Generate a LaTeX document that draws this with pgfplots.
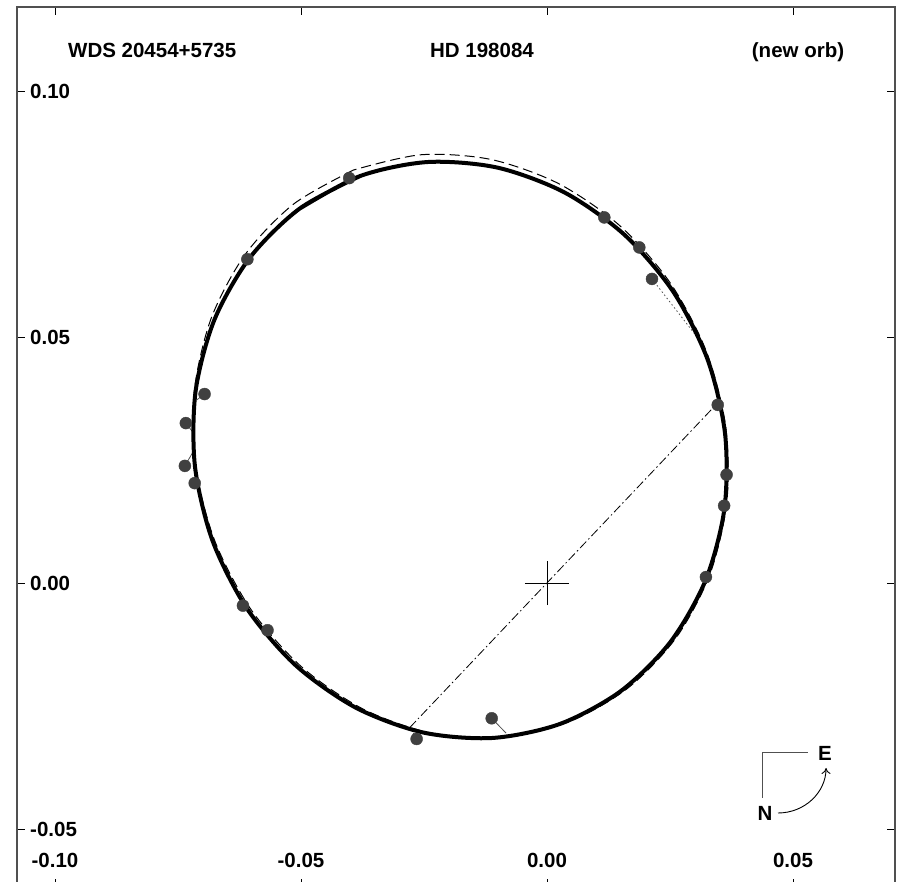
\documentclass[border=0pt]{standalone}
\usepackage{fontspec}
\setmainfont{Liberation Sans}
\usepackage{pgfplots}
\pgfplotsset{compat=1.18}
\usetikzlibrary{arrows.meta}

\definecolor{dotgray}{HTML}{404040}
\definecolor{framegray}{HTML}{505050}
\definecolor{resgray}{HTML}{505050}

\newcommand{\lblfont}{\fontsize{20.5}{24}\selectfont\bfseries}

\begin{document}
\begin{tikzpicture}
\begin{axis}[
  scale only axis, width=878pt, height=880pt,
  xmin=-0.10772, xmax=0.07073, ymin=-0.06179, ymax=0.11707,
  axis line style={framegray, line width=1.2pt},
  xtick={-0.10,-0.05,0,0.05}, ytick={-0.05,0,0.05,0.10},
  scaled ticks=false,
  tick align=inside, major tick length=8pt,
  tick style={black, line width=0.9pt},
  xtick pos=both, ytick pos=both,
  xticklabel pos=lower, yticklabel pos=left,
  ticklabel style={font=\lblfont},
  /pgf/number format/.cd, fixed, fixed zerofill, precision=2, assume math mode=true,
  /pgfplots/.cd,
  xticklabel style={anchor=base, yshift=19pt},
  yticklabel style={anchor=west, inner sep=0pt, xshift=13pt},
]
\coordinate (bl) at (rel axis cs:0,0);
\coordinate (tr) at (rel axis cs:1,1);

% residual lines: observed position -> position on the new orbit
\addplot[resgray, line width=0.8pt, dash pattern=on 1.5pt off 2.5pt] coordinates {(0.02134,0.0618) (0.0305,0.0500)};
\addplot[resgray, line width=0.8pt] coordinates {(-0.0696,0.0384) (-0.0712,0.0372)};
\addplot[resgray, line width=0.8pt] coordinates {(-0.0734,0.0325) (-0.0721,0.0308)};
\addplot[resgray, line width=0.8pt] coordinates {(-0.0736,0.0238) (-0.0719,0.0267)};
\addplot[resgray, line width=0.8pt] coordinates {(-0.01124,-0.0275) (-0.00833,-0.0305)};
\addplot[resgray, line width=0.8pt] coordinates {(-0.0265,-0.0317) (-0.0272,-0.0305)};

% line of nodes
\addplot[black, line width=0.8pt, dash pattern=on 9pt off 3pt on 1.5pt off 3pt]
  coordinates {(-0.0279,-0.0294) (0.0347,0.0366)};

% primary
\addplot[black, line width=0.8pt] coordinates {(-0.0045,0) (0.0045,0)};
\addplot[black, line width=0.8pt] coordinates {(0,-0.0045) (0,0.0045)};

% previous orbit
\addplot[black, line width=1pt, dash pattern=on 10pt off 5pt, smooth] coordinates {
(-0.039332,0.083934) (-0.051509,0.077011) (-0.061372,0.066734) (-0.068250,0.053804)
(-0.071674,0.039104) (-0.071410,0.023632) (-0.067475,0.008445) (-0.060140,-0.005422)
(-0.049902,-0.017026) (-0.037462,-0.025574) (-0.023664,-0.030484) (-0.009451,-0.031423)
(0.004210,-0.028324) (0.016387,-0.021401) (0.026250,-0.011124) (0.033128,0.001806)
(0.036552,0.016506) (0.036288,0.031978) (0.032353,0.047165) (0.025018,0.061032)
(0.014780,0.072636) (0.002340,0.081184) (-0.011458,0.086094) (-0.025671,0.087033)
(-0.039332,0.083934)};

% new orbit
\addplot[black, line width=4pt, line cap=round, smooth] coordinates {
(-0.03799,0.08271) (-0.05032,0.07606) (-0.06043,0.06607) (-0.06763,0.05342)
(-0.07142,0.03897) (-0.07155,0.02371) (-0.06801,0.00867) (-0.06104,-0.00511)
(-0.05111,-0.01671) (-0.03891,-0.02532) (-0.02526,-0.03037) (-0.01109,-0.03150)
(0.00263,-0.02865) (0.01496,-0.02200) (0.02507,-0.01201) (0.03227,0.00064)
(0.03606,0.01509) (0.03619,0.03035) (0.03265,0.04539) (0.02568,0.05917)
(0.01575,0.07077) (0.00355,0.07938) (-0.01010,0.08443) (-0.02427,0.08556)
(-0.03799,0.08271) (-0.05032,0.07606)};

% measurements
\addplot[only marks, mark=*, mark size=6pt, mark options={draw=dotgray, fill=dotgray}] coordinates {
(-0.0402,0.0823) (0.01165,0.0743) (0.01876,0.0682) (0.02134,0.0618)
(-0.0609,0.0658) (-0.0696,0.0384) (-0.0734,0.0325) (-0.0736,0.0238)
(-0.0716,0.0203) (0.0347,0.0362) (0.0365,0.0220) (0.0360,0.0157)
(0.0323,0.0012) (-0.0618,-0.0046) (-0.0568,-0.0096) (-0.01124,-0.0275)
(-0.0265,-0.0317)};

% header
\node[font=\lblfont, anchor=base west, inner sep=0pt] at (axis cs:-0.09736,0.10671) {WDS 20454+5735};
\node[font=\lblfont, anchor=base, inner sep=0pt] at (axis cs:-0.01321,0.10671) {HD 198084};
\node[font=\lblfont, anchor=base, inner sep=0pt] at (axis cs:0.05102,0.10671) {(new orb)};

% orientation sign
\draw[framegray, line width=1pt] (axis cs:0.04390,-0.04370) -- (axis cs:0.04390,-0.03455) -- (axis cs:0.05305,-0.03455);
\draw[black, line width=0.9pt, -{To[length=6pt,width=9pt]}] (axis cs:0.04695,-0.04675) .. controls (axis cs:0.05244,-0.04675) and (axis cs:0.05671,-0.04248) .. (axis cs:0.05671,-0.03760);
\node[font=\lblfont, inner sep=0pt] at (axis cs:0.05650,-0.03455) {E};
\node[font=\lblfont, inner sep=0pt] at (axis cs:0.04431,-0.04675) {N};
\end{axis}
\pgfresetboundingbox
\path ([xshift=-17pt,yshift=6pt]bl) rectangle ([xshift=2pt,yshift=7pt]tr);
\end{tikzpicture}
\end{document}
